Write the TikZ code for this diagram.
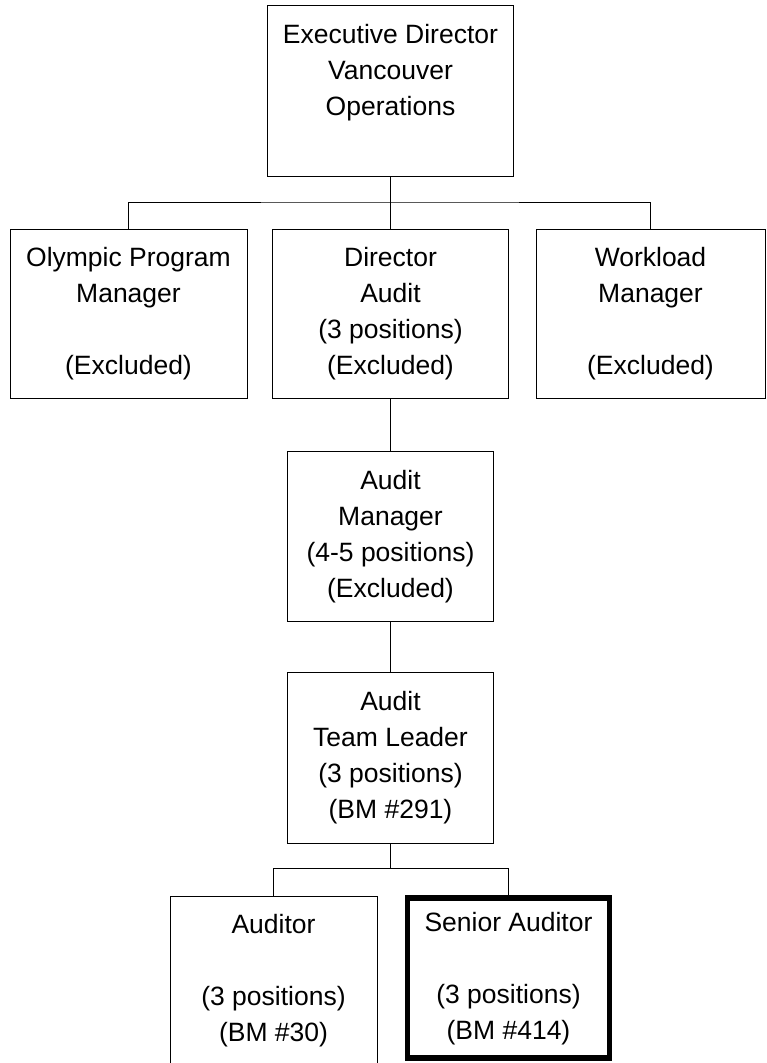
\documentclass[tikz,border=0pt]{standalone}
\usepackage{fontspec}
\setmainfont{Liberation Sans}

\begin{document}
\begin{tikzpicture}[x=1pt, y=-1pt,
  orgbox/.style={draw, line width=1pt, inner sep=0pt, outer sep=0pt,
    font=\fontsize{26.5}{36}\selectfont},
  focusbox/.style={orgbox, line width=5.5pt},
  link/.style={line width=1pt}]
\useasboundingbox (0,0) rectangle (766,1063);

% Executive
\node[orgbox, minimum width=246, minimum height=171] (exec) at (390.5,90.5) {
\begin{tabular}{c}
        Executive Director\\
        Vancouver\\
        Operations\\
        \; \\
    \end{tabular}
};

% Second row
\node[orgbox, minimum width=237, minimum height=169] (olympic) at (128.5,313.5) {
\begin{tabular}{c}
        Olympic Program\\
        Manager\\
        \; \\
        (Excluded)
    \end{tabular}
};
\node[orgbox, minimum width=236, minimum height=169] (director) at (390.5,313.5) {
\begin{tabular}{c}
        Director\\
        Audit\\
        (3 positions)\\
        (Excluded)
    \end{tabular}
};
\node[orgbox, minimum width=229, minimum height=169] (workload) at (650.5,313.5) {
\begin{tabular}{c}
        Workload\\
        Manager\\
        \; \\
        (Excluded)
    \end{tabular}
};

% Audit Manager
\node[orgbox, minimum width=206, minimum height=170] (manager) at (390.5,536) {
\begin{tabular}{c}
        Audit\\
        Manager\\
        (4-5 positions)\\
        (Excluded)
    \end{tabular}
};

% Team Leader
\node[orgbox, minimum width=206, minimum height=171] (leader) at (390.5,757.5) {
\begin{tabular}{c}
        Audit\\
        Team Leader\\
        (3 positions)\\
        (BM \#291)
    \end{tabular}
};

% Auditors
\node[orgbox, minimum width=207, minimum height=168] (auditor) at (273.5,980) {
\begin{tabular}{c}
        Auditor\\
        \; \\
        (3 positions)\\
        (BM \#30)
    \end{tabular}
};
\node[focusbox, minimum width=202, minimum height=160] (senior) at (508.5,978) {
\begin{tabular}{c}
        Senior Auditor\\
        \; \\
        (3 positions)\\
        (BM \#414)
    \end{tabular}
};

% Lines
\draw[link] (exec.south) -- ++(0,26) coordinate (bus);
\draw[link] (olympic.north) |- (bus) -| (workload.north);
\draw[link] (bus) -- (director.north);
\draw[link] (director.south) -- (manager.north);
\draw[link] (manager.south) -- (leader.north);
\draw[link] (leader.south) -- ++(0,25) coordinate (split);
\draw[link] (auditor.north) |- (split) -| (senior.north);
\end{tikzpicture}
\end{document}
